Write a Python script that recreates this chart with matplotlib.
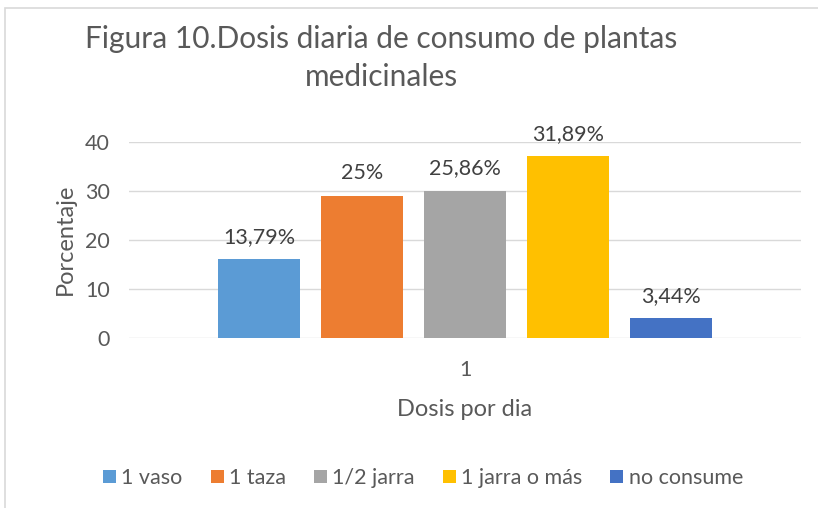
import matplotlib
matplotlib.use("Agg")
import matplotlib.pyplot as plt
from matplotlib.patches import Rectangle

categorias = ["1 vaso", "1 taza", "1/2 jarra", "1 jarra o más", "no consume"]
valores = [16, 29, 30, 37, 4]
etiquetas = ["13,79%", "25%", "25,86%", "31,89%", "3,44%"]
colores = ["#5B9BD5", "#ED7D31", "#A5A5A5", "#FFC000", "#4472C4"]
yticks = [0, 10, 20, 30, 40]

plt.rcParams["font.family"] = ["Lato", "DejaVu Sans"]
gris = "#595959"

fig = plt.figure(figsize=(8.18, 5.08), dpi=100)
fig.patches.append(Rectangle((5 / 818, -0.1), 1.2, 1 - 8 / 508 + 0.1, transform=fig.transFigure,
                             fill=False, edgecolor="#D9D9D9", linewidth=1.2))
ax = fig.add_axes([129 / 818, 1 - 337.7 / 508, 672 / 818, 196 / 508])

ancho, paso = 0.122, 0.153
for i, (c, v, e, col) in enumerate(zip(categorias, valores, etiquetas, colores)):
    x = 1 + (i - 2) * paso
    ax.bar(x, v, width=ancho, color=col, label=c, zorder=3)
    ax.annotate(e, (x, v), xytext=(0, 9), textcoords="offset points",
                ha="center", va="bottom", fontsize=15.5, color="#404040")

ax.set_xlim(0.5, 1.5)
ax.set_ylim(0, 40)
ax.set_yticks(yticks)
ax.set_xticks([1])
ax.grid(axis="y", color="#D9D9D9", linewidth=1, zorder=0)
for s in ax.spines.values():
    s.set_visible(False)
ax.tick_params(length=0, labelsize=15.5, colors=gris, pad=14)
ax.tick_params(axis="x", pad=16)
ax.set_ylabel("Porcentaje", fontsize=17, color=gris, labelpad=6)
ax.set_xlabel("Dosis por dia", fontsize=17, color=gris, labelpad=14)

fig.text(381 / 818, 1 - 58 / 508, "Figura 10.Dosis diaria de consumo de plantas\nmedicinales",
         ha="center", va="center", fontsize=21.5, color=gris, linespacing=1.4)

fig.legend(loc="center", bbox_to_anchor=(423 / 818, 1 - 478 / 508), ncol=5, frameon=False,
           fontsize=15.5, labelcolor=gris, handlelength=0.6, handleheight=0.6,
           handletextpad=0.25, columnspacing=1.3)

fig.savefig("out.png", dpi=100)
